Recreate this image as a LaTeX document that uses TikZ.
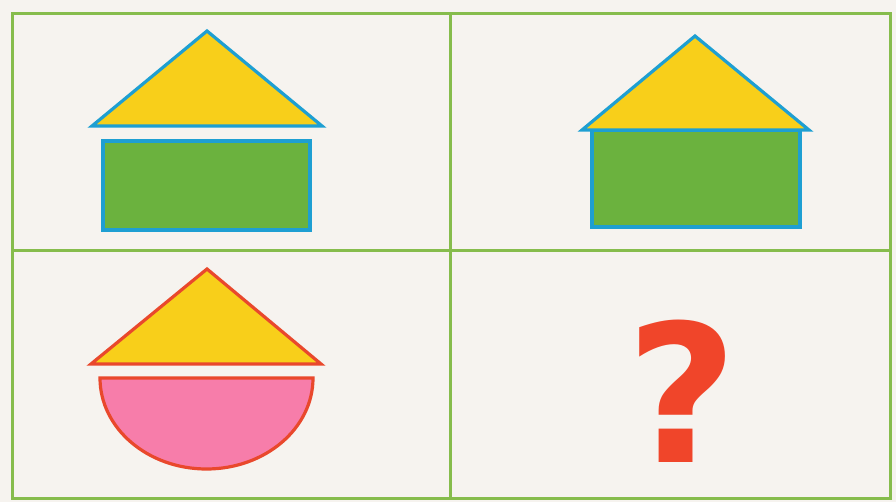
\documentclass[tikz,border=0pt]{standalone}
\usepackage{fontspec}
\newfontfamily\qfont{DejaVu Sans}
\begin{document}
\begin{tikzpicture}[x=1pt,y=-1pt,
  framecol/.style={draw=gridgreen,line width=3pt},
  roofblue/.style={fill=roofyellow,draw=outblue,line width=3.2pt,line join=miter},
  wallblue/.style={fill=wallgreen,draw=outblue,line width=3.4pt},
  roofred/.style={fill=roofyellow,draw=outred,line width=3.2pt,line join=miter},
  bowlred/.style={fill=bowlpink,draw=outred,line width=3.2pt}]
\definecolor{paper}{HTML}{F6F3EF}
\definecolor{gridgreen}{HTML}{86BC4C}
\definecolor{roofyellow}{HTML}{F8CF1A}
\definecolor{wallgreen}{HTML}{6BB23E}
\definecolor{outblue}{HTML}{1E9FD2}
\definecolor{outred}{HTML}{E9482C}
\definecolor{bowlpink}{HTML}{F77DAA}
\definecolor{qred}{HTML}{F0452A}
\useasboundingbox (0,0) rectangle (896,502);
\fill[paper] (0,0) rectangle (896,502);
% frame and grid
\draw[framecol] (12,14) rectangle (890,498);
\draw[framecol] (450,14) -- (450,498);
\draw[framecol] (12,251) -- (890,251);
% top-left house
\draw[roofblue] (207,31) -- (322,126) -- (92,126) -- cycle;
\draw[wallblue] (103,141) rectangle (310,230);
% top-right house
\draw[wallblue] (592,130) rectangle (800,227);
\draw[roofblue] (695,36) -- (809,130) -- (582,130) -- cycle;
% bottom-left
\draw[roofred] (207,269) -- (321,364) -- (91,364) -- cycle;
\draw[bowlred] (100,378) -- (313,378) arc[start angle=0,end angle=180,x radius=106.5,y radius=91] -- cycle;
% question mark
\node[anchor=base,text=qred,inner sep=6pt,font=\qfont\bfseries\fontsize{192}{196}\selectfont] (q) at (682,462) {?};
\end{tikzpicture}
\end{document}
